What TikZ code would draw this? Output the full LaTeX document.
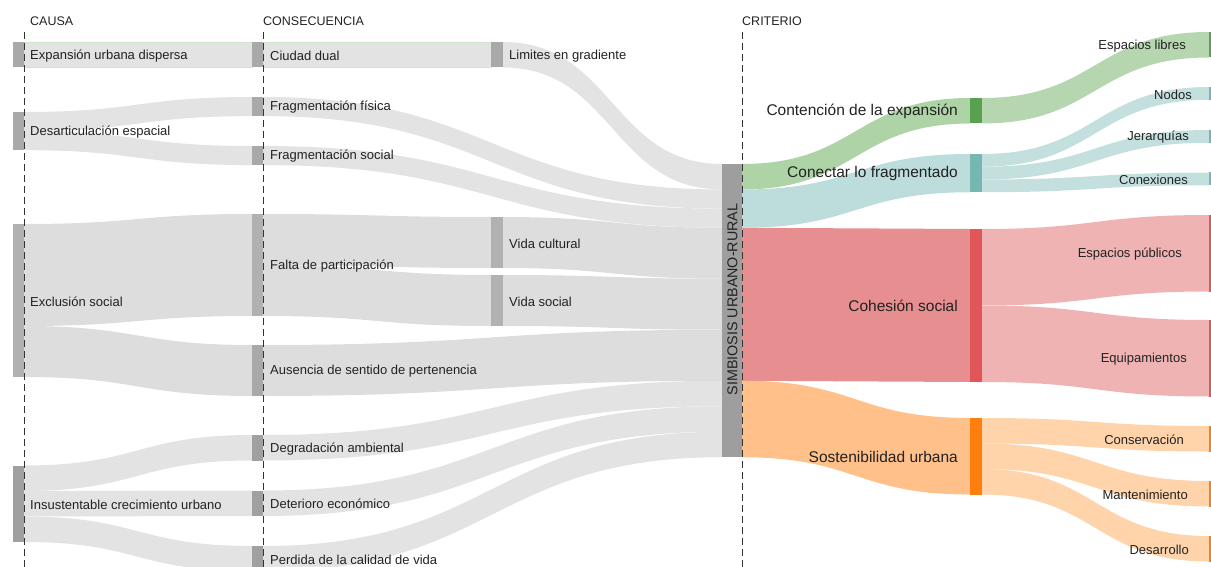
\documentclass[tikz,border=0pt]{standalone}
\usepackage{fontspec}
\setmainfont{Liberation Sans}
\usetikzlibrary{calc,positioning}

\pgfdeclarelayer{bg}
\pgfsetlayers{bg,main}

\definecolor{flowgray}{RGB}{227,227,227}
\definecolor{flowgraydk}{RGB}{221,221,221}
\definecolor{bargray}{RGB}{169,169,169}
\definecolor{barlight}{RGB}{177,177,177}
\definecolor{bardark}{RGB}{160,160,160}
\definecolor{simbgray}{RGB}{158,158,158}
\definecolor{edgegreen}{RGB}{206,230,201}
\definecolor{vgreen}{RGB}{89,161,79}
\definecolor{vgreenA}{RGB}{173,211,166}
\definecolor{vgreenB}{RGB}{181,214,175}
\definecolor{vteal}{RGB}{118,183,178}
\definecolor{vtealA}{RGB}{188,221,219}
\definecolor{vtealB}{RGB}{196,224,222}
\definecolor{vred}{RGB}{225,87,89}
\definecolor{vredA}{RGB}{231,143,144}
\definecolor{vredB}{RGB}{239,179,179}
\definecolor{vorange}{RGB}{255,127,14}
\definecolor{vorangeA}{RGB}{255,192,137}
\definecolor{vorangeB}{RGB}{255,212,170}
\definecolor{txt}{RGB}{34,34,34}
\definecolor{guidecol}{RGB}{51,51,51}

% band from #1 (offset #2) to #3 (offset #4), width #5, style #6
\newcommand{\sankeyflow}[6]{%
  \fill[#6] let \p1=($(#1.north east)+(0,#2)$), \p2=($(#3.north west)+(0,#4)$),
    \p3=($(\p1)+(0,#5)$), \p4=($(\p2)+(0,#5)$), \p5=($(\p1)!0.5!(\p2)$) in
    (\p1) .. controls (\x5,\y1) and (\x5,\y2) .. (\p2) -- (\p4)
    .. controls (\x5,\y4) and (\x5,\y3) .. (\p3) -- cycle;}

\begin{document}
\begin{tikzpicture}[x=1pt, y=-1pt,
  bar/.style={inner sep=0pt, outer sep=0pt, anchor=north west, minimum width=11pt},
  lbl/.style={inner sep=0pt, yshift=-1pt, text=txt, font=\fontsize{13}{15}\selectfont},
  biglbl/.style={inner sep=0pt, yshift=-0.5pt, text=txt, font=\fontsize{15.5}{18}\selectfont},
  head/.style={inner sep=0pt, anchor=west, text=txt, font=\fontsize{12.5}{15}\selectfont},
  guide/.style={draw=guidecol, line width=1pt, dash pattern=on 7pt off 4pt}]

	\useasboundingbox (0,0) rectangle (1211,567);

	%headers
	\node[head] (causa) at (30,21) {CAUSA};
	\node[head] (consecuencia) at (263,21) {CONSECUENCIA};
	\node[head] (criterio) at (742,21) {CRITERIO};

	%causa
	\node[bar, fill=bargray, minimum height=25.5pt] (expansion) at (13,42) {};
	\node[bar, fill=bargray, minimum height=38.25pt] (desart) at (13,112) {};
	\node[bar, fill=barlight, minimum height=153pt] (exclusion) at (13,224) {};
	\node[bar, fill=bardark, minimum height=76.5pt] (insust) at (13,465.5) {};
	\node[lbl, right=6pt of expansion] {Expansión urbana dispersa};
	\node[lbl, right=6pt of desart] {Desarticulación espacial};
	\node[lbl, right=6pt of exclusion] {Exclusión social};
	\node[lbl, right=6pt of insust] {Insustentable crecimiento urbano};

	%consecuencia
	\node[bar, fill=bargray, minimum height=25.5pt] (ciudad) at (252,42) {};
	\node[bar, fill=bargray, minimum height=19.1pt] (fragfis) at (252,97) {};
	\node[bar, fill=bargray, minimum height=19.1pt] (fragsoc) at (252,146) {};
	\node[bar, fill=barlight, minimum height=102pt] (falta) at (252,214) {};
	\node[bar, fill=bargray, minimum height=51pt] (ausencia) at (252,345) {};
	\node[bar, fill=bardark, minimum height=25.5pt] (degrad) at (252,435) {};
	\node[bar, fill=bardark, minimum height=25.5pt] (deterioro) at (252,490.5) {};
	\node[bar, fill=bardark, minimum height=25.5pt] (perdida) at (252,546) {};
	\node[lbl, right=7pt of ciudad] {Ciudad dual};
	\node[lbl, right=7pt of fragfis] {Fragmentación física};
	\node[lbl, right=7pt of fragsoc] {Fragmentación social};
	\node[lbl, right=7pt of falta] {Falta de participación};
	\node[lbl, right=7pt of ausencia] {Ausencia de sentido de pertenencia};
	\node[lbl, right=7pt of degrad] {Degradación ambiental};
	\node[lbl, right=7pt of deterioro] {Deterioro económico};
	\node[lbl, right=7pt of perdida] {Perdida de la calidad de vida};

	\node[bar, fill=bargray, minimum width=12pt, minimum height=25.5pt] (limites) at (491,42) {};
	\node[bar, fill=barlight, minimum width=12pt, minimum height=51pt] (vcultural) at (491,217) {};
	\node[bar, fill=barlight, minimum width=12pt, minimum height=51pt] (vsocial) at (491,275) {};
	\node[lbl, right=6pt of limites] {Limites en gradiente};
	\node[lbl, right=6pt of vcultural] {Vida cultural};
	\node[lbl, right=6pt of vsocial] {Vida social};

	%criterio
	\node[bar, fill=simbgray, minimum width=20pt, minimum height=293.25pt] (simb) at (722,164) {};
	\node[inner sep=0pt, text=txt, font=\fontsize{14.3}{16}\selectfont, rotate=90] (simb-l) at (732.5,299.5) {SIMBIOSIS URBANO-RURAL};

	\node[bar, fill=vgreen, minimum width=12pt, minimum height=25.5pt] (contencion) at (970,98) {};
	\node[bar, fill=vteal, minimum width=12pt, minimum height=38.25pt] (conectar) at (970,154) {};
	\node[bar, fill=vred, minimum width=12pt, minimum height=153pt] (cohesion) at (970,229) {};
	\node[bar, fill=vorange, minimum width=12pt, minimum height=76.5pt] (sosten) at (970,418) {};
	\node[biglbl, left=12pt of contencion] {Contención de la expansión};
	\node[biglbl, left=12pt of conectar] {Conectar lo fragmentado};
	\node[biglbl, left=12pt of cohesion] {Cohesión social};
	\node[biglbl, left=12pt of sosten] {Sostenibilidad urbana};

	\node[bar, fill=vgreen, minimum width=2.5pt, minimum height=25.5pt] (esplibres) at (1209,32) {};
	\node[bar, fill=vteal, minimum width=2.5pt, minimum height=12.75pt] (nodos) at (1209,87) {};
	\node[bar, fill=vteal, minimum width=2.5pt, minimum height=12.75pt] (jerarquias) at (1209,130) {};
	\node[bar, fill=vteal, minimum width=2.5pt, minimum height=12.75pt] (conexiones) at (1209,172.5) {};
	\node[bar, fill=vred, minimum width=2.5pt, minimum height=76.5pt] (esppublicos) at (1209,215) {};
	\node[bar, fill=vred, minimum width=2.5pt, minimum height=76.5pt] (equipamientos) at (1209,320) {};
	\node[bar, fill=vorange, minimum width=2.5pt, minimum height=25.5pt] (conservacion) at (1209,426) {};
	\node[bar, fill=vorange, minimum width=2.5pt, minimum height=25.5pt] (mantenimiento) at (1209,481) {};
	\node[bar, fill=vorange, minimum width=2.5pt, minimum height=25.5pt] (desarrollo) at (1209,536) {};
	\node[lbl, left=23pt of esplibres] {Espacios libres};
	\node[lbl, left=17pt of nodos] {Nodos};
	\node[lbl, left=20pt of jerarquias] {Jerarquías};
	\node[lbl, left=21pt of conexiones] {Conexiones};
	\node[lbl, left=27pt of esppublicos] {Espacios públicos};
	\node[lbl, left=22pt of equipamientos] {Equipamientos};
	\node[lbl, left=25pt of conservacion] {Conservación};
	\node[lbl, left=21pt of mantenimiento] {Mantenimiento};
	\node[lbl, left=20pt of desarrollo] {Desarrollo};

	%flows
	\begin{pgfonlayer}{bg}
	\sankeyflow{expansion}{0}{ciudad}{0}{25.5}{fill=flowgray, draw=edgegreen, line width=0.8pt}
	\sankeyflow{desart}{0}{fragfis}{0}{19.1}{flowgray}
	\sankeyflow{desart}{19.1}{fragsoc}{0}{19.1}{flowgray}
	\sankeyflow{exclusion}{0}{falta}{0}{102}{flowgraydk}
	\sankeyflow{exclusion}{102}{ausencia}{0}{51}{flowgraydk}
	\sankeyflow{insust}{0}{degrad}{0}{25.5}{flowgray}
	\sankeyflow{insust}{25.5}{deterioro}{0}{25.5}{flowgray}
	\sankeyflow{insust}{51}{perdida}{0}{25.5}{flowgray}

	\sankeyflow{ciudad}{0}{limites}{0}{25.5}{fill=flowgray, draw=edgegreen, line width=0.8pt}
	\sankeyflow{falta}{0}{vcultural}{0}{51}{flowgraydk}
	\sankeyflow{falta}{51}{vsocial}{0}{51}{flowgraydk}

	\sankeyflow{limites}{0}{simb}{0}{25.5}{flowgray}
	\sankeyflow{fragfis}{0}{simb}{25.5}{19.1}{flowgray}
	\sankeyflow{fragsoc}{0}{simb}{44.6}{19.1}{flowgray}
	\sankeyflow{vcultural}{0}{simb}{63.75}{51}{flowgraydk}
	\sankeyflow{vsocial}{0}{simb}{114.75}{51}{flowgraydk}
	\sankeyflow{ausencia}{0}{simb}{165.75}{51}{flowgraydk}
	\sankeyflow{degrad}{0}{simb}{216.75}{25.5}{flowgray}
	\sankeyflow{deterioro}{0}{simb}{242.25}{25.5}{flowgray}
	\sankeyflow{perdida}{0}{simb}{267.75}{25.5}{flowgray}

	\sankeyflow{simb}{0}{contencion}{0}{25.5}{vgreenA}
	\sankeyflow{simb}{25.5}{conectar}{0}{38.25}{vtealA}
	\sankeyflow{simb}{63.75}{cohesion}{0}{153}{vredA}
	\sankeyflow{simb}{216.75}{sosten}{0}{76.5}{vorangeA}

	\sankeyflow{contencion}{0}{esplibres}{0}{25.5}{vgreenB}
	\sankeyflow{conectar}{0}{nodos}{0}{12.75}{vtealB}
	\sankeyflow{conectar}{12.75}{jerarquias}{0}{12.75}{vtealB}
	\sankeyflow{conectar}{25.5}{conexiones}{0}{12.75}{vtealB}
	\sankeyflow{cohesion}{0}{esppublicos}{0}{76.5}{vredB}
	\sankeyflow{cohesion}{76.5}{equipamientos}{0}{76.5}{vredB}
	\sankeyflow{sosten}{0}{conservacion}{0}{25.5}{vorangeB}
	\sankeyflow{sosten}{25.5}{mantenimiento}{0}{25.5}{vorangeB}
	\sankeyflow{sosten}{51}{desarrollo}{0}{25.5}{vorangeB}
	\end{pgfonlayer}

	%column lines
	\draw[guide] (24,32)--(24,567);
	\draw[guide] (263,32)--(263,567);
	\draw[guide] (742,32)--(742,567);

\end{tikzpicture}
\end{document}
